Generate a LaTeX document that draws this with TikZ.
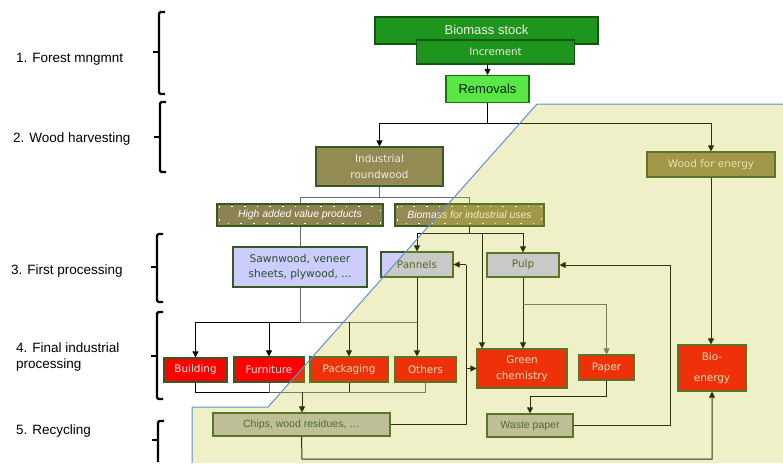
\documentclass[tikz,border=0pt]{standalone}
\usepackage{fontspec}
\setmainfont{Liberation Sans}
\newfontfamily\boxfont{DejaVu Sans}
\usetikzlibrary{arrows.meta}

\definecolor{gdark}{RGB}{30,150,30}
\definecolor{gbdr}{RGB}{20,85,20}
\definecolor{glight}{RGB}{90,230,70}
\definecolor{olivebox}{RGB}{148,138,84}
\definecolor{lav}{RGB}{204,204,255}
\definecolor{khaki}{RGB}{190,190,190}
\definecolor{redb}{RGB}{255,0,0}
\definecolor{bdr}{RGB}{55,90,35}
\definecolor{txtdark}{RGB}{40,80,40}
\definecolor{txtlight}{RGB}{238,236,225}
\definecolor{txtpink}{RGB}{255,232,232}
\definecolor{ovl}{RGB}{196,196,39}
\definecolor{edge}{RGB}{95,145,210}
\definecolor{gline}{RGB}{105,105,105}

\tikzset{
  box/.style={draw=bdr, line width=1.1pt, inner sep=0pt, align=center,
    text=txtdark, font=\boxfont\fontsize{10.4}{16}\selectfont},
  redbox/.style={box, fill=redb, text=txtpink},
  conn/.style={draw=black, line width=1pt},
  gconn/.style={draw=gline, line width=1pt},
  arr/.style={conn, -{Triangle[length=6pt,width=6pt]}},
  lbl/.style={anchor=west, font=\fontsize{13.5}{16}\selectfont, text=black, align=left, inner sep=0pt},
  brace/.style={line width=2.2pt, rounded corners=1.5pt},
  specks/.style={white, line width=1.7pt, dash pattern=on 1.7pt off 11pt},
}

\begin{document}
\begin{tikzpicture}[x=1pt,y=-1pt]
\useasboundingbox (0,0) rectangle (783,463);

% stage labels and braces
\node[lbl] (l1) at (16,59) {1. Forest mngmnt};
\node[lbl] (l2) at (13,139) {2. Wood harvesting};
\node[lbl] (l3) at (11,271) {3. First processing};
\node[lbl] (l4) at (16,357) {4. Final industrial\\processing};
\node[lbl] (l5) at (16,431) {5. Recycling};

\draw[brace] (165,12) -- (159,12) -- (159,94) -- (165,94);
\draw[brace] (153,52) -- (159,52);
\draw[brace] (166,102) -- (160,102) -- (160,172) -- (166,172);
\draw[brace] (154,137) -- (160,137);
\draw[brace] (163,234) -- (157,234) -- (157,302) -- (163,302);
\draw[brace] (151,267) -- (157,267);
\draw[brace] (163,312) -- (157,312) -- (157,399) -- (163,399);
\draw[brace] (151,356) -- (157,356);
\draw[brace] (164,421) -- (158,421) -- (158,462);
\draw[brace] (152,440) -- (158,440);

% boxes
\node[box, draw=gbdr, fill=gdark, text=txtlight, minimum width=223pt, minimum height=27pt,
  font=\fontsize{13}{15}\selectfont] (bio) at (486.5,30.5) {\raisebox{1pt}{Biomass stock}};
\node[box, draw=gbdr, fill=gdark, text=txtlight, minimum width=158pt, minimum height=24pt,
  font=\boxfont\fontsize{10.3}{12}\selectfont] (inc) at (495.5,52) {Increment};
\node[box, draw=gbdr!80!green, fill=glight, text=black!85!green, minimum width=83pt, minimum height=27pt,
  font=\fontsize{13}{15}\selectfont] (rem) at (487.5,89) {Removals};

\node[box, fill=olivebox, text=txtlight, minimum width=127pt, minimum height=39pt] (irw) at (379.5,166.5) {Industrial\\roundwood};
\node[box, fill=olivebox, text=txtlight, minimum width=128pt, minimum height=25pt] (wfe) at (711,164.5) {Wood for energy};

\node[box, fill=olivebox!95!black, text=white, minimum width=166pt, minimum height=22pt,
  font=\itshape\fontsize{10.4}{12}\selectfont] (hav) at (300,215) {High added value products};
\node[box, fill=olivebox, text=white, minimum width=149pt, minimum height=22pt,
  font=\itshape\fontsize{10.4}{12}\selectfont] (bfi) at (469.5,215) {Biomass for industrial uses};
\draw[specks] ([shift={(3,3)}]hav.north west) rectangle ([shift={(-3,-3)}]hav.south east);
\draw[specks] ([shift={(3,3)}]bfi.north west) rectangle ([shift={(-3,-3)}]bfi.south east);

\node[box, fill=lav, minimum width=134pt, minimum height=40pt,
  font=\boxfont\fontsize{10.6}{15}\selectfont] (sawn) at (300,267) {Sawnwood, veneer\\sheets, plywood, ...};
\node[box, fill=lav, minimum width=72pt, minimum height=25pt] (pan) at (417,264.5) {Pannels};
\node[box, fill=lav, minimum width=72pt, minimum height=24pt] (pulp) at (523,265) {Pulp};

\node[redbox, minimum width=63pt, minimum height=24pt] (bld) at (195.5,370) {Building};
\node[redbox, minimum width=70pt, minimum height=25pt] (fur) at (269,369.5) {Furniture};
\node[redbox, minimum width=78pt, minimum height=25pt] (pak) at (349,369.5) {Packaging};
\node[redbox, minimum width=61pt, minimum height=25pt] (oth) at (425.5,369.5) {Others};
\node[redbox, minimum width=90pt, minimum height=39pt] (gc) at (522,368.5) {Green\\chemistry};
\node[redbox, minimum width=55pt, minimum height=25pt] (paper) at (606.5,367.5) {Paper};
\node[redbox, minimum width=68pt, minimum height=46pt,
  font=\boxfont\fontsize{10.4}{21}\selectfont] (bioe) at (712,368) {Bio-\\energy};

\node[box, fill=khaki, minimum width=177pt, minimum height=23pt,
  font=\fontsize{10.5}{12}\selectfont] (chips) at (301.5,424.5) {Chips, wood residues, \dots};
\node[box, fill=khaki, minimum width=86pt, minimum height=23pt,
  font=\fontsize{10.5}{12}\selectfont] (waste) at (530,425.5) {Waste paper};

% connectors
\draw[arr] (inc.south -| rem.north) -- (rem.north);
\coordinate (s1) at (487.5,123);
\draw[conn] (rem.south) -- (s1);
\draw[arr] (s1) -| (irw.north);
\draw[arr] (s1) -| (wfe.north);

\coordinate (s2) at (379.5,197);
\draw[gconn] (irw.south) -- (s2);
\draw[gconn] (hav.north) -- (hav.north |- s2) -- (bfi.north |- s2) -- (bfi.north);
\draw[gconn] (hav.south) -- (sawn.north);

\coordinate (s3) at (469.5,233);
\coordinate (gcin) at (482,233);
\draw[conn] (bfi.south) -- (s3);
\draw[conn] (pan.north |- s3) -- (pulp.north |- s3);
\draw[arr] (pan.north |- s3) -- (pan.north);
\draw[arr] (pulp.north |- s3) -- (pulp.north);
\draw[arr] (gcin) -- (gcin |- gc.north);

\coordinate (t4) at (300,322);
\draw[gconn] (sawn.south) -- (t4);
\draw[conn] (bld.north |- t4) -- (t4);
\draw[gconn] (t4) -- (pan.south |- t4);
\draw[conn] (pan.south) -- (pan.south |- t4);
\draw[arr] (bld.north |- t4) -- (bld.north);
\draw[arr] (fur.north |- t4) -- (fur.north);
\draw[arr] (pak.north |- t4) -- (pak.north);
\draw[arr] (pan.south |- t4) -- (pan.south |- oth.north);

\coordinate (b4) at (302,392);
\draw[conn] (bld.south) -- (bld.south |- b4) -- (fur.south |- b4);
\draw[gconn] (fur.south) -- (fur.south |- b4) -- (oth.south |- b4) -- (oth.south);
\draw[conn] (pak.south) -- (pak.south |- b4);
\draw[arr] (b4) -- (b4 |- chips.north);

\coordinate (r1) at (466,424.5);
\draw[conn] (chips.east) -- (r1) -- (r1 |- pan.east);
\draw[arr] (r1 |- pan.east) -- (pan.east);
\draw[arr] (r1 |- gc.west) -- (gc.west);

\coordinate (b5) at (302,459);
\draw[arr] (chips.south) -- (b5) -- (bioe.south |- b5) -- (bioe.south);

\draw[arr] (pulp.south) -- (pulp.south |- gc.north);
\coordinate (p1) at (523,304);
\draw[gconn, -{Triangle[length=6pt,width=6pt]}] (p1) -| (paper.north);
\coordinate (p2) at (606.5,396);
\draw[arr] (paper.south) -- (p2) -| (waste.north);
\coordinate (w1) at (670,425.5);
\draw[conn] (waste.east) -- (w1) -- (w1 |- pulp.east);
\draw[arr] (w1 |- pulp.east) -- (pulp.east);

\draw[arr] (wfe.south) -- (wfe.south |- bioe.north);

% translucent zone for the bio-based sector
\fill[ovl, fill opacity=0.255] (192,463) -- (192,407) -- (268,407) -- (537,104) -- (783,104) -- (783,463) -- cycle;
\draw[edge, line width=1pt] (192,463) -- (192,407) -- (268,407) -- (537,104) -- (783,104);
\end{tikzpicture}
\end{document}
